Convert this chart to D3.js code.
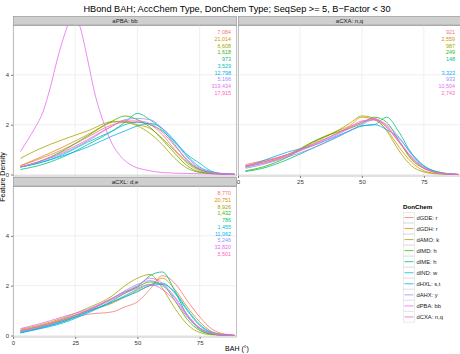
<!DOCTYPE html>
<html>
<head>
<meta charset="utf-8">
<script src="https://cdn.jsdelivr.net/npm/d3@7"></script>
<style>
  body { margin: 0; background: #fff; }
  text { font-family: "Liberation Sans", Arial, Helvetica, sans-serif; }
</style>
</head>
<body>
<script>
// BAH angle grid (degrees) the density values were read at
var bah = [3, 10, 20, 30, 40, 45, 50, 55, 60, 65, 70, 75, 80, 85, 89];
// finer grid for the sharp dPBA peak in the aPBA panel
var bahFine = [3, 6, 9, 12, 15, 18, 21, 24, 27, 30, 33, 36, 40, 44, 48, 54, 60, 70, 80, 89];

var donChem = ["dGDE: r", "dGDH: r", "dAMO: k", "dIMD: h", "dIME: h", "dIND: w", "dHXL: s,t", "dAHX: y", "dPBA: bb", "dCXA: n,q"];
var accChem = ["aPBA: bb", "aCXA: n,q", "aCXL: d,e"];

var countsPBA = ["7,084", "21,014", "6,608", "1,618", "973", "3,529", "12,798", "5,166", "319,434", "17,915"];
var countsCXA = ["921", "2,559", "987", "249", "148", null, "3,323", "933", "10,504", "2,743"];
var countsCXL = ["8,770", "20,751", "8,926", "1,432", "786", "1,455", "11,062", "5,246", "32,820", "5,501"];

var densPBA = [
  [0.35, 0.6, 1.0, 1.5, 2.0, 2.1, 2.1, 2.0, 1.6, 1.0, 0.5, 0.2, 0.07, 0.02, 0.01],
  [0.35, 0.65, 1.1, 1.6, 2.1, 2.15, 2.0, 1.85, 1.45, 0.95, 0.45, 0.15, 0.05, 0.02, 0.01],
  [0.65, 1.0, 1.4, 1.75, 2.12, 2.1, 1.95, 1.65, 1.2, 0.65, 0.25, 0.08, 0.03, 0.01, 0],
  [0.3, 0.5, 0.95, 1.55, 2.15, 2.35, 2.2, 1.9, 1.4, 0.85, 0.35, 0.1, 0.04, 0.01, 0],
  [0.2, 0.35, 0.7, 1.2, 1.75, 2.1, 2.45, 2.2, 1.8, 1.2, 0.55, 0.2, 0.07, 0.02, 0],
  [0.3, 0.45, 0.8, 1.3, 1.75, 2.0, 2.1, 2.0, 1.75, 1.3, 0.8, 0.45, 0.12, 0.03, 0.01],
  [0.3, 0.45, 0.75, 1.1, 1.55, 1.75, 1.95, 2.05, 1.85, 1.35, 0.75, 0.3, 0.1, 0.03, 0.01],
  [0.3, 0.5, 0.85, 1.35, 1.95, 2.2, 2.25, 2.2, 1.85, 1.3, 0.7, 0.25, 0.08, 0.02, 0.01],
  null,
  [0.3, 0.5, 0.9, 1.4, 1.95, 2.15, 2.15, 2.05, 1.7, 1.15, 0.6, 0.22, 0.07, 0.02, 0.01]
];
var densPBAbb = [0.92, 1.4, 1.9, 2.5, 3.5, 4.7, 5.7, 6.4, 5.9, 4.6, 3.2, 2.2, 1.2, 0.65, 0.35, 0.17, 0.08, 0.04, 0.02, 0.01];

var densCXA = [
  [0.4, 0.55, 0.8, 1.2, 1.65, 1.9, 2.1, 2.2, 1.9, 1.3, 0.65, 0.25, 0.08, 0.02, 0.01],
  [0.35, 0.5, 0.8, 1.3, 1.75, 1.95, 2.3, 2.2, 1.8, 1.1, 0.5, 0.15, 0.04, 0.01, 0],
  [0.3, 0.45, 0.75, 1.25, 1.75, 2.05, 2.35, 2.25, 1.75, 0.95, 0.35, 0.1, 0.03, 0.01, 0],
  [0.15, 0.3, 0.7, 1.3, 1.7, 1.85, 2.05, 2.3, 2.1, 1.35, 0.6, 0.25, 0.12, 0.03, 0],
  [0.12, 0.25, 0.6, 1.05, 1.5, 1.75, 1.95, 2.0, 2.3, 1.7, 0.85, 0.35, 0.12, 0.03, 0],
  null,
  [0.3, 0.55, 0.9, 1.15, 1.55, 1.75, 1.95, 2.0, 1.8, 1.45, 0.85, 0.35, 0.1, 0.02, 0],
  [0.25, 0.4, 0.7, 1.05, 1.5, 1.75, 2.0, 2.2, 2.0, 1.5, 0.8, 0.3, 0.08, 0.02, 0],
  [0.3, 0.45, 0.75, 1.15, 1.6, 1.85, 2.1, 2.25, 1.95, 1.35, 0.7, 0.25, 0.07, 0.02, 0],
  [0.35, 0.5, 0.8, 1.2, 1.65, 1.9, 2.15, 2.2, 1.9, 1.3, 0.7, 0.28, 0.08, 0.02, 0]
];

var densCXL = [
  [0.2, 0.35, 0.6, 0.85, 0.95, 1.15, 1.35, 1.85, 2.4, 2.1, 1.4, 0.75, 0.25, 0.06, 0.02],
  [0.2, 0.35, 0.65, 1.0, 1.3, 1.55, 1.8, 2.0, 2.3, 1.85, 1.15, 0.55, 0.15, 0.04, 0.01],
  [0.25, 0.4, 0.7, 1.1, 1.6, 2.0, 2.3, 2.45, 1.9, 1.1, 0.45, 0.12, 0.03, 0.01, 0],
  [0.15, 0.3, 0.6, 1.0, 1.5, 1.75, 1.95, 2.15, 2.05, 1.4, 0.65, 0.2, 0.05, 0.01, 0],
  [0.12, 0.28, 0.55, 0.95, 1.4, 1.7, 1.95, 2.4, 2.55, 1.8, 0.8, 0.25, 0.06, 0.01, 0],
  [0.12, 0.28, 0.55, 0.95, 1.35, 1.6, 1.85, 2.05, 2.1, 1.7, 1.0, 0.4, 0.1, 0.02, 0],
  [0.1, 0.25, 0.5, 0.9, 1.35, 1.55, 1.75, 2.0, 2.05, 1.75, 1.05, 0.45, 0.12, 0.03, 0],
  [0.15, 0.3, 0.6, 1.0, 1.5, 1.8, 2.05, 2.2, 2.0, 1.5, 0.8, 0.3, 0.08, 0.02, 0],
  [0.28, 0.45, 0.75, 1.05, 1.5, 1.75, 2.0, 2.3, 2.1, 1.55, 0.85, 0.3, 0.08, 0.02, 0],
  [0.2, 0.35, 0.65, 1.0, 1.45, 1.7, 1.9, 2.05, 1.85, 1.4, 0.75, 0.3, 0.08, 0.02, 0]
];

var xTicks = [0, 25, 50, 75];
var yTicks = [0, 2, 4];

var colors = ["#F8766D", "#D89000", "#A3A500", "#39B600", "#00BF7D", "#00BFC4", "#00B0F6", "#9590FF", "#E76BF3", "#FF62BC"];

var W = 460, H = 354;
var svg = d3.select("body").append("svg")
  .attr("width", W)
  .attr("height", H);

svg.append("text")
  .attr("x", 237).attr("y", 12)
  .attr("text-anchor", "middle")
  .attr("font-size", 9.2)
  .text("HBond BAH; AccChem Type, DonChem Type; SeqSep >= 5, B\u2212Factor < 30");

var panels = [
  {label: accChem[0], x0: 13, x1: 237, top: 16, dens: densPBA, counts: countsPBA, yAxis: true, xAxis: false, special: densPBAbb},
  {label: accChem[1], x0: 238, x1: 461, top: 16, dens: densCXA, counts: countsCXA, yAxis: false, xAxis: true},
  {label: accChem[2], x0: 13, x1: 237, top: 177, dens: densCXL, counts: countsCXL, yAxis: true, xAxis: true}
];

panels.forEach(function(p, pi) {
  var stripH = 9;
  var pTop = p.top + stripH, pBot = pTop + 151;
  var x = d3.scaleLinear().domain([0, 90]).range([p.x0, p.x1]);
  var y = d3.scaleLinear().domain([-0.06, 6.0]).range([pBot, pTop]);

  var g = svg.append("g");
  var clipId = "clip" + pi;
  svg.append("clipPath").attr("id", clipId)
    .append("rect").attr("x", p.x0).attr("y", pTop).attr("width", p.x1 - p.x0).attr("height", pBot - pTop);

  // strip
  g.append("rect")
    .attr("x", p.x0 + 0.5).attr("y", p.top + 0.5)
    .attr("width", p.x1 - p.x0 - 1).attr("height", stripH)
    .attr("fill", "#cfcfcf").attr("stroke", "#8a8a8a").attr("stroke-width", 0.6);
  g.append("text")
    .attr("x", (p.x0 + p.x1) / 2).attr("y", p.top + 7)
    .attr("text-anchor", "middle").attr("font-size", 6)
    .attr("fill", "#1a1a1a")
    .text(p.label);

  // grid
  g.selectAll(".gx").data(xTicks).enter().append("line")
    .attr("x1", function(d) { return x(d); }).attr("x2", function(d) { return x(d); })
    .attr("y1", pTop).attr("y2", pBot)
    .attr("stroke", "#e6e6e6").attr("stroke-width", 0.6);
  g.selectAll(".gy").data(yTicks).enter().append("line")
    .attr("x1", p.x0).attr("x2", p.x1)
    .attr("y1", function(d) { return y(d); }).attr("y2", function(d) { return y(d); })
    .attr("stroke", "#e6e6e6").attr("stroke-width", 0.6);

  // density lines
  var line = d3.line().curve(d3.curveMonotoneX)
    .x(function(d) { return x(d[0]); })
    .y(function(d) { return y(d[1]); });
  var lines = g.append("g").attr("clip-path", "url(#" + clipId + ")");
  p.dens.forEach(function(vals, i) {
    var pts;
    if (vals) pts = d3.zip(bah, vals);
    else if (p.special && i === 8) pts = d3.zip(bahFine, p.special);
    else return;
    lines.append("path")
      .attr("d", line(pts))
      .attr("fill", "none")
      .attr("stroke", colors[i])
      .attr("stroke-width", 0.8);
  });

  // counts per donor type
  p.counts.forEach(function(c, i) {
    if (c === null) return;
    g.append("text")
      .attr("x", p.x1 - 6).attr("y", pTop + 9 + i * 6.75)
      .attr("text-anchor", "end").attr("font-size", 5.4)
      .attr("fill", colors[i])
      .text(c);
  });

  // panel border
  g.append("rect")
    .attr("x", p.x0 + 0.5).attr("y", pTop)
    .attr("width", p.x1 - p.x0 - 1).attr("height", pBot - pTop)
    .attr("fill", "none").attr("stroke", "#9a9a9a").attr("stroke-width", 0.6);

  if (p.yAxis) {
    var ya = d3.axisLeft(y).tickValues(yTicks).tickFormat(d3.format("d")).tickSize(2).tickPadding(2);
    var yg = svg.append("g").attr("transform", "translate(" + p.x0 + ",0)").call(ya);
    yg.select(".domain").remove();
    yg.selectAll("line").attr("stroke", "#7f7f7f");
    yg.selectAll("text").attr("font-size", 6).attr("fill", "#333")
      .attr("font-family", "Liberation Sans, Arial, sans-serif");
  }
  if (p.xAxis) {
    var xa = d3.axisBottom(x).tickValues(xTicks).tickFormat(d3.format("d")).tickSize(2).tickPadding(1.5);
    var xg = svg.append("g").attr("transform", "translate(0," + pBot + ")").call(xa);
    xg.select(".domain").remove();
    xg.selectAll("line").attr("stroke", "#7f7f7f");
    xg.selectAll("text").attr("font-size", 6).attr("fill", "#333")
      .attr("font-family", "Liberation Sans, Arial, sans-serif");
  }
});

// axis titles
svg.append("text")
  .attr("transform", "translate(5,177) rotate(-90)")
  .attr("text-anchor", "middle").attr("font-size", 7)
  .text("Feature Density");
svg.append("text")
  .attr("x", 237).attr("y", 351)
  .attr("text-anchor", "middle").attr("font-size", 7)
  .text("BAH (\u00b0)");

// legend
var lg = svg.append("g").attr("transform", "translate(403,0)");
lg.append("text").attr("x", 0).attr("y", 209)
  .attr("font-size", 6.2).attr("font-weight", "bold")
  .text("DonChem");
donChem.forEach(function(d, i) {
  var cy = 217.5 + i * 11.05;
  lg.append("rect")
    .attr("x", 0.5).attr("y", cy - 5.2)
    .attr("width", 11).attr("height", 10.4)
    .attr("fill", "#fff").attr("stroke", "#dcdcdc").attr("stroke-width", 0.6);
  lg.append("line")
    .attr("x1", 1.5).attr("x2", 10.5).attr("y1", cy).attr("y2", cy)
    .attr("stroke", colors[i]).attr("stroke-width", 0.8);
  lg.append("text")
    .attr("x", 13.5).attr("y", cy + 2)
    .attr("font-size", 5.8).attr("fill", "#222")
    .text(d);
});
</script>
</body>
</html>
